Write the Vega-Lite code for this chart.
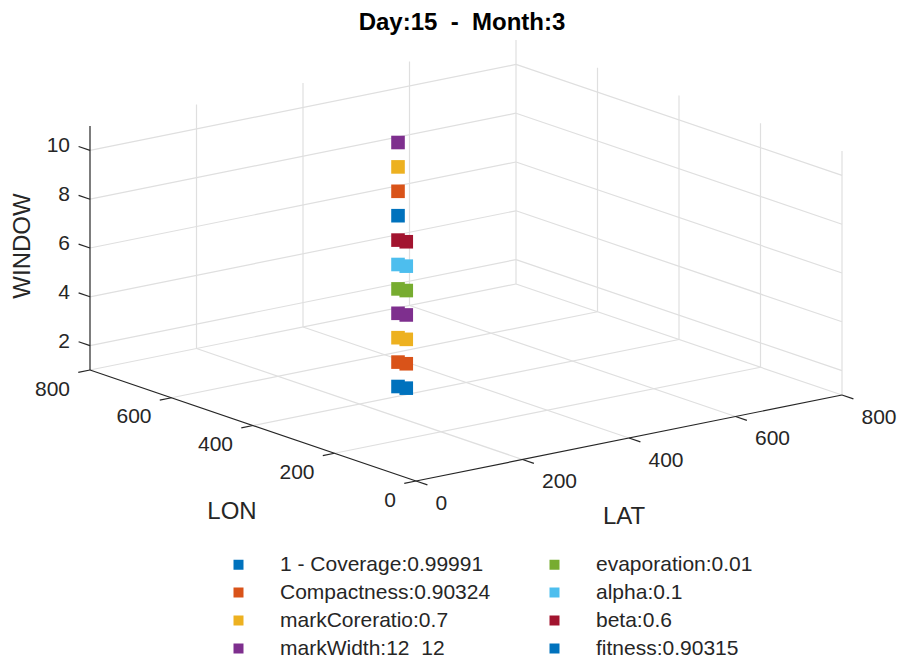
{
  "$schema": "https://vega.github.io/schema/vega-lite/v6.json",
  "description": "3-D scatter of window index against LAT/LON, drawn with an oblique projection (azimuth -37.5, elevation 15) of the data cube onto the view.",
  "width": 902,
  "height": 664,
  "padding": 0,
  "autosize": "none",
  "config": {"view": {"stroke": null}},
  "title": {
    "text": "Day:15\u00a0 -\u00a0 Month:3",
    "font": "Liberation Sans",
    "fontSize": 24,
    "fontWeight": "bold",
    "color": "#000000",
    "anchor": "middle",
    "frame": "group",
    "baseline": "alphabetic",
    "offset": -32,
    "dx": 11,
    "dy": 22
  },
  "datasets": {
    "segments": [
      {"part": "grid", "lat1": 200, "lon1": 0, "z1": 1, "lat2": 200, "lon2": 800, "z2": 1},
      {"part": "grid", "lat1": 400, "lon1": 0, "z1": 1, "lat2": 400, "lon2": 800, "z2": 1},
      {"part": "grid", "lat1": 600, "lon1": 0, "z1": 1, "lat2": 600, "lon2": 800, "z2": 1},
      {"part": "grid", "lat1": 800, "lon1": 0, "z1": 1, "lat2": 800, "lon2": 800, "z2": 1},
      {"part": "grid", "lat1": 0, "lon1": 200, "z1": 1, "lat2": 800, "lon2": 200, "z2": 1},
      {"part": "grid", "lat1": 0, "lon1": 400, "z1": 1, "lat2": 800, "lon2": 400, "z2": 1},
      {"part": "grid", "lat1": 0, "lon1": 600, "z1": 1, "lat2": 800, "lon2": 600, "z2": 1},
      {"part": "grid", "lat1": 0, "lon1": 800, "z1": 1, "lat2": 800, "lon2": 800, "z2": 1},
      {"part": "grid", "lat1": 200, "lon1": 800, "z1": 1, "lat2": 200, "lon2": 800, "z2": 11},
      {"part": "grid", "lat1": 400, "lon1": 800, "z1": 1, "lat2": 400, "lon2": 800, "z2": 11},
      {"part": "grid", "lat1": 600, "lon1": 800, "z1": 1, "lat2": 600, "lon2": 800, "z2": 11},
      {"part": "grid", "lat1": 800, "lon1": 800, "z1": 1, "lat2": 800, "lon2": 800, "z2": 11},
      {"part": "grid", "lat1": 800, "lon1": 0, "z1": 1, "lat2": 800, "lon2": 0, "z2": 11},
      {"part": "grid", "lat1": 800, "lon1": 200, "z1": 1, "lat2": 800, "lon2": 200, "z2": 11},
      {"part": "grid", "lat1": 800, "lon1": 400, "z1": 1, "lat2": 800, "lon2": 400, "z2": 11},
      {"part": "grid", "lat1": 800, "lon1": 600, "z1": 1, "lat2": 800, "lon2": 600, "z2": 11},
      {"part": "grid", "lat1": 0, "lon1": 800, "z1": 2, "lat2": 800, "lon2": 800, "z2": 2},
      {"part": "grid", "lat1": 0, "lon1": 800, "z1": 4, "lat2": 800, "lon2": 800, "z2": 4},
      {"part": "grid", "lat1": 0, "lon1": 800, "z1": 6, "lat2": 800, "lon2": 800, "z2": 6},
      {"part": "grid", "lat1": 0, "lon1": 800, "z1": 8, "lat2": 800, "lon2": 800, "z2": 8},
      {"part": "grid", "lat1": 0, "lon1": 800, "z1": 10, "lat2": 800, "lon2": 800, "z2": 10},
      {"part": "grid", "lat1": 800, "lon1": 0, "z1": 2, "lat2": 800, "lon2": 800, "z2": 2},
      {"part": "grid", "lat1": 800, "lon1": 0, "z1": 4, "lat2": 800, "lon2": 800, "z2": 4},
      {"part": "grid", "lat1": 800, "lon1": 0, "z1": 6, "lat2": 800, "lon2": 800, "z2": 6},
      {"part": "grid", "lat1": 800, "lon1": 0, "z1": 8, "lat2": 800, "lon2": 800, "z2": 8},
      {"part": "grid", "lat1": 800, "lon1": 0, "z1": 10, "lat2": 800, "lon2": 800, "z2": 10},
      {"part": "axis", "lat1": 0, "lon1": 0, "z1": 1, "lat2": 0, "lon2": 800, "z2": 1},
      {"part": "axis", "lat1": 0, "lon1": 0, "z1": 1, "lat2": 800, "lon2": 0, "z2": 1},
      {"part": "axis", "lat1": 0, "lon1": 800, "z1": 1, "lat2": 0, "lon2": 800, "z2": 11},
      {"part": "axis", "lat1": 0, "lon1": 0, "z1": 1, "lat2": -22, "lon2": 0, "z2": 1},
      {"part": "axis", "lat1": 0, "lon1": 200, "z1": 1, "lat2": -22, "lon2": 200, "z2": 1},
      {"part": "axis", "lat1": 0, "lon1": 400, "z1": 1, "lat2": -22, "lon2": 400, "z2": 1},
      {"part": "axis", "lat1": 0, "lon1": 600, "z1": 1, "lat2": -22, "lon2": 600, "z2": 1},
      {"part": "axis", "lat1": 0, "lon1": 800, "z1": 1, "lat2": -22, "lon2": 800, "z2": 1},
      {"part": "axis", "lat1": 0, "lon1": 0, "z1": 1, "lat2": 0, "lon2": -28, "z2": 1},
      {"part": "axis", "lat1": 200, "lon1": 0, "z1": 1, "lat2": 200, "lon2": -28, "z2": 1},
      {"part": "axis", "lat1": 400, "lon1": 0, "z1": 1, "lat2": 400, "lon2": -28, "z2": 1},
      {"part": "axis", "lat1": 600, "lon1": 0, "z1": 1, "lat2": 600, "lon2": -28, "z2": 1},
      {"part": "axis", "lat1": 800, "lon1": 0, "z1": 1, "lat2": 800, "lon2": -28, "z2": 1},
      {"part": "axis", "lat1": 0, "lon1": 800, "z1": 2, "lat2": 0, "lon2": 828, "z2": 2},
      {"part": "axis", "lat1": 0, "lon1": 800, "z1": 4, "lat2": 0, "lon2": 828, "z2": 4},
      {"part": "axis", "lat1": 0, "lon1": 800, "z1": 6, "lat2": 0, "lon2": 828, "z2": 6},
      {"part": "axis", "lat1": 0, "lon1": 800, "z1": 8, "lat2": 0, "lon2": 828, "z2": 8},
      {"part": "axis", "lat1": 0, "lon1": 800, "z1": 10, "lat2": 0, "lon2": 828, "z2": 10}
    ],
    "ticks": [
      {"axis": "lon", "value": 0, "lat": 0, "lon": 0, "window": 1},
      {"axis": "lon", "value": 200, "lat": 0, "lon": 200, "window": 1},
      {"axis": "lon", "value": 400, "lat": 0, "lon": 400, "window": 1},
      {"axis": "lon", "value": 600, "lat": 0, "lon": 600, "window": 1},
      {"axis": "lon", "value": 800, "lat": 0, "lon": 800, "window": 1},
      {"axis": "lat", "value": 0, "lat": 0, "lon": 0, "window": 1},
      {"axis": "lat", "value": 200, "lat": 200, "lon": 0, "window": 1},
      {"axis": "lat", "value": 400, "lat": 400, "lon": 0, "window": 1},
      {"axis": "lat", "value": 600, "lat": 600, "lon": 0, "window": 1},
      {"axis": "lat", "value": 800, "lat": 800, "lon": 0, "window": 1},
      {"axis": "window", "value": 2, "lat": 0, "lon": 800, "window": 2},
      {"axis": "window", "value": 4, "lat": 0, "lon": 800, "window": 4},
      {"axis": "window", "value": 6, "lat": 0, "lon": 800, "window": 6},
      {"axis": "window", "value": 8, "lat": 0, "lon": 800, "window": 8},
      {"axis": "window", "value": 10, "lat": 0, "lon": 800, "window": 10}
    ],
    "axisTitles": [
      {"axis": "lon", "name": "LON", "lat": 0, "lon": 400, "window": 1},
      {"axis": "lat", "name": "LAT", "lat": 400, "lon": 0, "window": 1},
      {"axis": "window", "name": "WINDOW", "lat": 0, "lon": 800, "window": 6}
    ],
    "points": [
      {"series": "1 - Coverage:0.99991", "lat": 306, "lon": 444, "window": 1},
      {"series": "1 - Coverage:0.99991", "lat": 310, "lon": 429, "window": 1},
      {"series": "Compactness:0.90324", "lat": 306, "lon": 444, "window": 2},
      {"series": "Compactness:0.90324", "lat": 310, "lon": 429, "window": 2},
      {"series": "markCoreratio:0.7", "lat": 306, "lon": 444, "window": 3},
      {"series": "markCoreratio:0.7", "lat": 310, "lon": 429, "window": 3},
      {"series": "markWidth:12\u00a0 12", "lat": 306, "lon": 444, "window": 4},
      {"series": "markWidth:12\u00a0 12", "lat": 310, "lon": 429, "window": 4},
      {"series": "evaporation:0.01", "lat": 306, "lon": 444, "window": 5},
      {"series": "evaporation:0.01", "lat": 310, "lon": 429, "window": 5},
      {"series": "alpha:0.1", "lat": 306, "lon": 444, "window": 6},
      {"series": "alpha:0.1", "lat": 310, "lon": 429, "window": 6},
      {"series": "beta:0.6", "lat": 306, "lon": 444, "window": 7},
      {"series": "beta:0.6", "lat": 310, "lon": 429, "window": 7},
      {"series": "fitness:0.90315", "lat": 306, "lon": 444, "window": 8},
      {"series": "data9", "lat": 306, "lon": 444, "window": 9},
      {"series": "data10", "lat": 306, "lon": 444, "window": 10},
      {"series": "data11", "lat": 306, "lon": 444, "window": 11}
    ]
  },
  "layer": [
    {
      "data": {"name": "segments"},
      "transform": [
        {"filter": "datum.part === 'grid'"},
        {"calculate": "0.5325 * datum.lat1 - 0.4075 * datum.lon1", "as": "sx1"},
        {"calculate": "0.1075 * datum.lat1 + 0.13875 * datum.lon1 + 24.4 * (datum.z1 - 1)", "as": "sy1"},
        {"calculate": "0.5325 * datum.lat2 - 0.4075 * datum.lon2", "as": "sx2"},
        {"calculate": "0.1075 * datum.lat2 + 0.13875 * datum.lon2 + 24.4 * (datum.z2 - 1)", "as": "sy2"}
      ],
      "mark": {"type": "rule", "stroke": "#dfdfdf", "strokeWidth": 1.2},
      "encoding": {
        "x": {"field": "sx1", "type": "quantitative", "scale": {"domain": [-416, 486], "nice": false, "zero": false}, "axis": null},
        "y": {"field": "sy1", "type": "quantitative", "scale": {"domain": [-183, 481], "nice": false, "zero": false}, "axis": null},
        "x2": {"field": "sx2"},
        "y2": {"field": "sy2"}
      }
    },
    {
      "data": {"name": "segments"},
      "transform": [
        {"filter": "datum.part === 'axis'"},
        {"calculate": "0.5325 * datum.lat1 - 0.4075 * datum.lon1", "as": "sx1"},
        {"calculate": "0.1075 * datum.lat1 + 0.13875 * datum.lon1 + 24.4 * (datum.z1 - 1)", "as": "sy1"},
        {"calculate": "0.5325 * datum.lat2 - 0.4075 * datum.lon2", "as": "sx2"},
        {"calculate": "0.1075 * datum.lat2 + 0.13875 * datum.lon2 + 24.4 * (datum.z2 - 1)", "as": "sy2"}
      ],
      "mark": {"type": "rule", "stroke": "#262626", "strokeWidth": 1.2},
      "encoding": {
        "x": {"field": "sx1", "type": "quantitative", "scale": {"domain": [-416, 486], "nice": false, "zero": false}, "axis": null},
        "y": {"field": "sy1", "type": "quantitative", "scale": {"domain": [-183, 481], "nice": false, "zero": false}, "axis": null},
        "x2": {"field": "sx2"},
        "y2": {"field": "sy2"}
      }
    },
    {
      "data": {"name": "points"},
      "transform": [
        {"calculate": "0.5325 * datum.lat - 0.4075 * datum.lon", "as": "sx"},
        {"calculate": "0.1075 * datum.lat + 0.13875 * datum.lon + 24.4 * (datum.window - 1)", "as": "sy"}
      ],
      "mark": {"type": "square", "filled": true, "opacity": 1, "size": 185},
      "encoding": {
        "x": {"field": "sx", "type": "quantitative", "scale": {"domain": [-416, 486], "nice": false, "zero": false}, "axis": null},
        "y": {"field": "sy", "type": "quantitative", "scale": {"domain": [-183, 481], "nice": false, "zero": false}, "axis": null},
        "color": {
          "field": "series",
          "type": "nominal",
          "scale": {
            "domain": ["1 - Coverage:0.99991", "Compactness:0.90324", "markCoreratio:0.7", "markWidth:12\u00a0 12", "evaporation:0.01", "alpha:0.1", "beta:0.6", "fitness:0.90315", "data9", "data10", "data11"],
            "range": ["#0072BD", "#D95319", "#EDB120", "#7E2F8E", "#77AC30", "#4DBEEE", "#A2142F", "#0072BD", "#D95319", "#EDB120", "#7E2F8E"]
          },
          "legend": {
            "values": ["1 - Coverage:0.99991", "Compactness:0.90324", "markCoreratio:0.7", "markWidth:12\u00a0 12", "evaporation:0.01", "alpha:0.1", "beta:0.6", "fitness:0.90315"],
            "title": null,
            "orient": "none",
            "legendX": 228,
            "legendY": 554,
            "columns": 2,
            "columnPadding": 53,
            "rowPadding": 6,
            "symbolType": "square",
            "symbolSize": 100,
            "symbolStrokeWidth": 0,
            "labelOffset": 31,
            "labelFont": "Liberation Sans",
            "labelFontSize": 21,
            "labelColor": "#262626",
            "labelLimit": 400
          }
        },
        "order": {"field": "window", "type": "quantitative"}
      }
    },
    {
      "data": {"name": "ticks"},
      "transform": [
        {"filter": "datum.axis === 'lon'"},
        {"calculate": "0.5325 * datum.lat - 0.4075 * datum.lon", "as": "sx"},
        {"calculate": "0.1075 * datum.lat + 0.13875 * datum.lon + 24.4 * (datum.window - 1)", "as": "sy"}
      ],
      "mark": {"type": "text", "align": "right", "baseline": "middle", "dx": -20, "dy": 19.5, "font": "Liberation Sans", "fontSize": 21, "fill": "#262626"},
      "encoding": {
        "x": {"field": "sx", "type": "quantitative", "scale": {"domain": [-416, 486], "nice": false, "zero": false}, "axis": null},
        "y": {"field": "sy", "type": "quantitative", "scale": {"domain": [-183, 481], "nice": false, "zero": false}, "axis": null},
        "text": {"field": "value", "type": "quantitative"}
      }
    },
    {
      "data": {"name": "ticks"},
      "transform": [
        {"filter": "datum.axis === 'lat'"},
        {"calculate": "0.5325 * datum.lat - 0.4075 * datum.lon", "as": "sx"},
        {"calculate": "0.1075 * datum.lat + 0.13875 * datum.lon + 24.4 * (datum.window - 1)", "as": "sy"}
      ],
      "mark": {"type": "text", "align": "left", "baseline": "middle", "dx": 19.5, "dy": 22.5, "font": "Liberation Sans", "fontSize": 21, "fill": "#262626"},
      "encoding": {
        "x": {"field": "sx", "type": "quantitative", "scale": {"domain": [-416, 486], "nice": false, "zero": false}, "axis": null},
        "y": {"field": "sy", "type": "quantitative", "scale": {"domain": [-183, 481], "nice": false, "zero": false}, "axis": null},
        "text": {"field": "value", "type": "quantitative"}
      }
    },
    {
      "data": {"name": "ticks"},
      "transform": [
        {"filter": "datum.axis === 'window'"},
        {"calculate": "0.5325 * datum.lat - 0.4075 * datum.lon", "as": "sx"},
        {"calculate": "0.1075 * datum.lat + 0.13875 * datum.lon + 24.4 * (datum.window - 1)", "as": "sy"}
      ],
      "mark": {"type": "text", "align": "right", "baseline": "middle", "dx": -20, "dy": -4, "font": "Liberation Sans", "fontSize": 21, "fill": "#262626"},
      "encoding": {
        "x": {"field": "sx", "type": "quantitative", "scale": {"domain": [-416, 486], "nice": false, "zero": false}, "axis": null},
        "y": {"field": "sy", "type": "quantitative", "scale": {"domain": [-183, 481], "nice": false, "zero": false}, "axis": null},
        "text": {"field": "value", "type": "quantitative"}
      }
    },
    {
      "data": {"name": "axisTitles"},
      "transform": [
        {"filter": "datum.axis === 'lon'"},
        {"calculate": "0.5325 * datum.lat - 0.4075 * datum.lon", "as": "sx"},
        {"calculate": "0.1075 * datum.lat + 0.13875 * datum.lon + 24.4 * (datum.window - 1)", "as": "sy"}
      ],
      "mark": {"type": "text", "align": "center", "baseline": "middle", "dx": -21, "dy": 86.5, "font": "Liberation Sans", "fontSize": 24, "fill": "#262626"},
      "encoding": {
        "x": {"field": "sx", "type": "quantitative", "scale": {"domain": [-416, 486], "nice": false, "zero": false}, "axis": null},
        "y": {"field": "sy", "type": "quantitative", "scale": {"domain": [-183, 481], "nice": false, "zero": false}, "axis": null},
        "text": {"field": "name"}
      }
    },
    {
      "data": {"name": "axisTitles"},
      "transform": [
        {"filter": "datum.axis === 'lat'"},
        {"calculate": "0.5325 * datum.lat - 0.4075 * datum.lon", "as": "sx"},
        {"calculate": "0.1075 * datum.lat + 0.13875 * datum.lon + 24.4 * (datum.window - 1)", "as": "sy"}
      ],
      "mark": {"type": "text", "align": "center", "baseline": "middle", "dx": -5, "dy": 79, "font": "Liberation Sans", "fontSize": 24, "fill": "#262626"},
      "encoding": {
        "x": {"field": "sx", "type": "quantitative", "scale": {"domain": [-416, 486], "nice": false, "zero": false}, "axis": null},
        "y": {"field": "sy", "type": "quantitative", "scale": {"domain": [-183, 481], "nice": false, "zero": false}, "axis": null},
        "text": {"field": "name"}
      }
    },
    {
      "data": {"name": "axisTitles"},
      "transform": [
        {"filter": "datum.axis === 'window'"},
        {"calculate": "0.5325 * datum.lat - 0.4075 * datum.lon", "as": "sx"},
        {"calculate": "0.1075 * datum.lat + 0.13875 * datum.lon + 24.4 * (datum.window - 1)", "as": "sy"}
      ],
      "mark": {"type": "text", "align": "center", "baseline": "middle", "angle": 270, "dx": 2, "dy": -67, "font": "Liberation Sans", "fontSize": 24, "fill": "#262626"},
      "encoding": {
        "x": {"field": "sx", "type": "quantitative", "scale": {"domain": [-416, 486], "nice": false, "zero": false}, "axis": null},
        "y": {"field": "sy", "type": "quantitative", "scale": {"domain": [-183, 481], "nice": false, "zero": false}, "axis": null},
        "text": {"field": "name"}
      }
    }
  ]
}
